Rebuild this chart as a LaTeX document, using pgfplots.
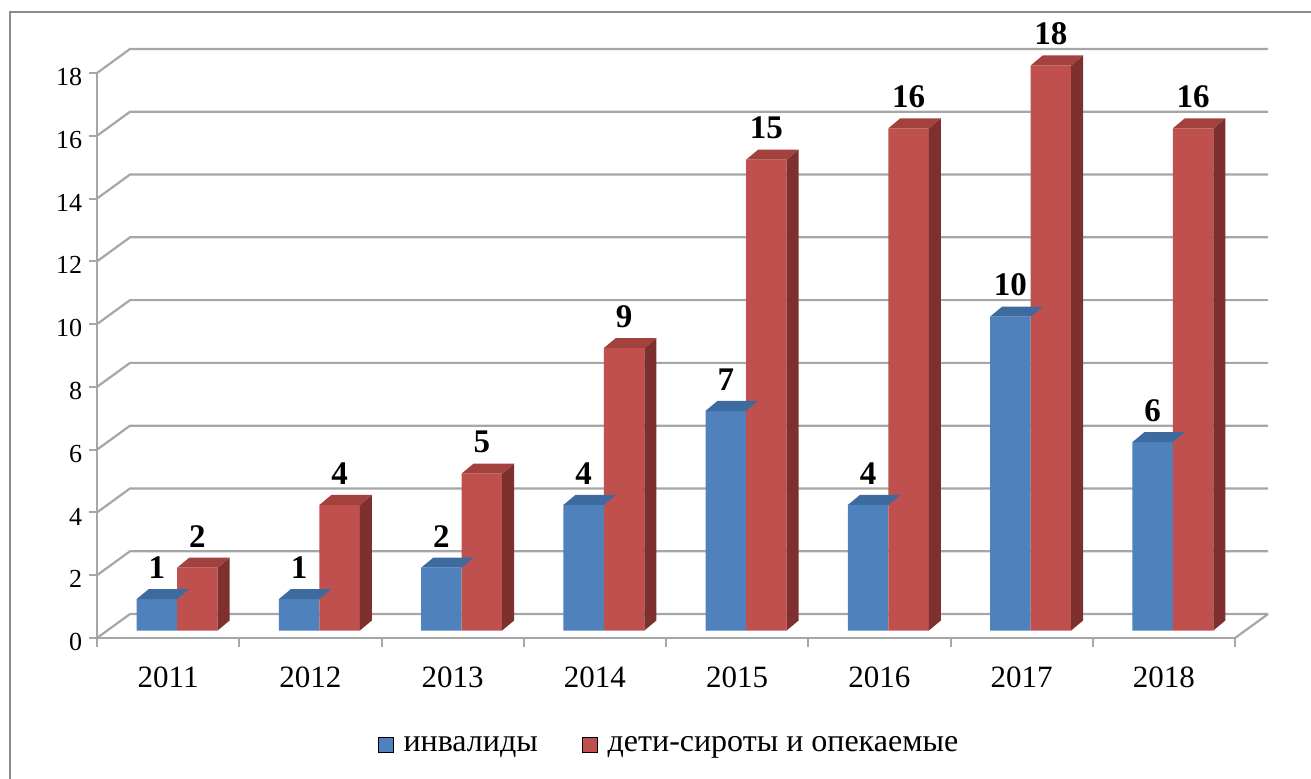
\documentclass[border=0pt]{standalone}
\usepackage{pgfplots}
\usepackage{pgfplotstable}
\pgfplotsset{compat=1.18}
\usepackage{fontspec}
\setmainfont{Liberation Serif}

\definecolor{bfront}{HTML}{4F81BD}
\definecolor{btop}{HTML}{3E6B9F}
\definecolor{rfront}{HTML}{C0504D}
\definecolor{rtop}{HTML}{A3413E}
\definecolor{rside}{HTML}{7D302E}
\definecolor{gridc}{HTML}{A6A6A6}
\definecolor{framec}{HTML}{8C8C8C}

\def\bw{20.25pt}
\def\ddx{6pt}
\def\ddy{5pt}
\def\unitlen{15.6944pt}

\pgfdeclareplotmark{topL}{%
  \pgfpathmoveto{\pgfpoint{-\bw}{0pt}}%
  \pgfpathlineto{\pgfpoint{0pt}{0pt}}%
  \pgfpathlineto{\pgfpoint{\ddx}{\ddy}}%
  \pgfpathlineto{\pgfpoint{-\bw+\ddx}{\ddy}}%
  \pgfpathclose\pgfusepathqfill}
\pgfdeclareplotmark{topR}{%
  \pgfpathmoveto{\pgfpoint{0pt}{0pt}}%
  \pgfpathlineto{\pgfpoint{\bw}{0pt}}%
  \pgfpathlineto{\pgfpoint{\bw+\ddx}{\ddy}}%
  \pgfpathlineto{\pgfpoint{\ddx}{\ddy}}%
  \pgfpathclose\pgfusepathqfill}
\pgfdeclareplotmark{sideR}{%
  \pgfpathmoveto{\pgfpoint{\bw}{0pt}}%
  \pgfpathlineto{\pgfpoint{\bw+\ddx}{\ddy}}%
  \pgfpathlineto{\pgfpoint{\bw+\ddx}{\ddy-\hval*\unitlen}}%
  \pgfpathlineto{\pgfpoint{\bw}{-\hval*\unitlen}}%
  \pgfpathclose\pgfusepathqfill}

\pgfplotstableread{
x b r
1 1 2
2 1 4
3 2 5
4 4 9
5 7 15
6 4 16
7 10 18
8 6 16
}\datatable

\pgfplotsset{/pgf/number format/assume math mode=true}

\begin{document}
\begin{tikzpicture}
\useasboundingbox (0,0) rectangle (655.5pt,389pt);
\draw[framec, line width=1pt] (4.75pt,-2pt) -- (4.75pt,383pt) -- (660pt,383pt);

% back walls, floor, ticks, legend
\begin{axis}[
  at={(48.5pt,70pt)}, anchor=south west,
  scale only axis, width=569pt, height=282.5pt,
  xmin=0.5, xmax=8.5, ymin=0, ymax=18,
  clip=false,
  axis x line*=bottom, axis y line*=left,
  axis line style={gridc, line width=1pt},
  tick align=outside, major tick length=4.25pt,
  tick style={gridc, line width=1pt},
  ytick={0,2,...,18},
  xtick={0.5,1.5,...,8.5},
  xticklabels={2011,2012,2013,2014,2015,2016,2017,2018,{}},
  xticklabel style={font=\fontsize{15.5}{16}\selectfont, xshift=35.5625pt, inner sep=0pt, anchor=north, yshift=-10pt},
  yticklabel style={font=\fontsize{13}{13}\selectfont, inner sep=0pt, anchor=east, xshift=-3pt, yshift=-2pt},
  legend image code/.code={\fill[#1] (0pt,-3.7pt) rectangle (7.5pt,3.7pt); \path (10.5pt,0pt);},
  legend style={at={(axis description cs:0.5035,-0.1894)}, anchor=center, draw=none, fill=none,
    font=\fontsize{16}{16}\selectfont, legend columns=2,
    /tikz/every even column/.append style={column sep=20pt}},
]
\addlegendimage{fill=bfront}
\addlegendentry{инвалиды}
\addlegendimage{fill=rfront}
\addlegendentry{дети-сироты и опекаемые}
\pgfplotsinvokeforeach{0,2,...,18}{
  \draw[gridc, line width=1.1pt] (axis cs:0.5,#1) -- ++(16.5pt,12pt) -- ++(569pt,0pt);
}
\draw[gridc, line width=1.1pt] (axis cs:8.5,0) -- ++(16.5pt,12pt);
\end{axis}

% bars
\begin{axis}[
  at={(53pt,73.75pt)}, anchor=south west,
  scale only axis, width=569pt, height=282.5pt,
  xmin=0.5, xmax=8.5, ymin=0, ymax=18,
  hide axis, clip=false,
  every node near coord/.append style={font=\fontsize{16.5}{17}\selectfont\bfseries, inner sep=0pt, anchor=south, yshift=10pt, text=black},
]
\addplot[ybar, bar width=\bw, bar shift=-10.125pt, fill=bfront, draw=none, nodes near coords,
  every node near coord/.append style={xshift=-10.125pt}] table[x=x,y=b]{\datatable};
\addplot[only marks, mark=topL, mark options={draw=none, fill=btop}] table[x=x,y=b]{\datatable};
\addplot[scatter, only marks, mark=sideR, scatter/use mapped color={draw=none, fill=rside},
  visualization depends on={\thisrow{r} \as \hval}] table[x=x,y=r]{\datatable};
\addplot[ybar, bar width=\bw, bar shift=10.125pt, fill=rfront, draw=none, nodes near coords,
  every node near coord/.append style={xshift=10.125pt}] table[x=x,y=r]{\datatable};
\addplot[only marks, mark=topR, mark options={draw=none, fill=rtop}] table[x=x,y=r]{\datatable};
\end{axis}
\end{tikzpicture}
\end{document}
